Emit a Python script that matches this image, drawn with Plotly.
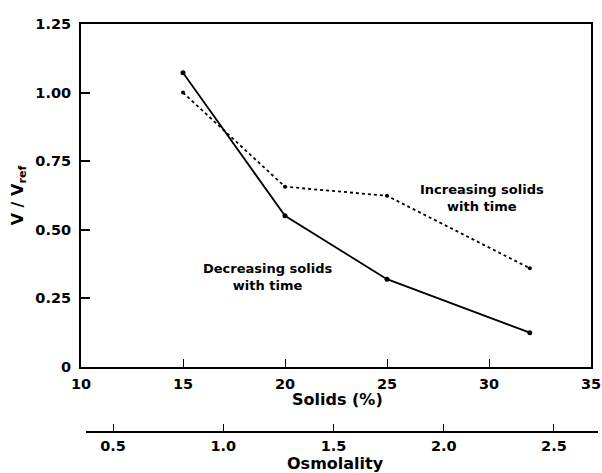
import plotly.graph_objects as go

solids = [15, 20, 25, 32]
decreasing = [1.072, 0.551, 0.32, 0.125]
increasing = [1.0, 0.657, 0.624, 0.36]

x_ticks = [10, 15, 20, 25, 30, 35]
y_ticks = [0, 0.25, 0.5, 0.75, 1.0, 1.25]
y_ticktext = ["0", "0.25", "0.50", "0.75", "1.00", "1.25"]
osm_ticks = [0.5, 1.0, 1.5, 2.0, 2.5]
osm_ticktext = ["0.5", "1.0", "1.5", "2.0", "2.5"]
osm_range = [0.377, 2.70]

W, H = 602, 473
ml, mr, mt, mb = 81, 4, 24, 2
pw = W - ml - mr
ph = H - mt - mb

def yfrac(py):  # py in reference pixels
    return (H - mb - py) / ph

def xfrac(px):  # px in reference pixels
    return (px - ml) / pw

font_tick = dict(family="DejaVu Sans", size=14.5, color="black", weight="bold")
font_title = dict(family="DejaVu Sans", size=16, color="black", weight="bold")
font_txt = dict(family="DejaVu Sans", size=13, color="black", weight="bold")

fig = go.Figure()
fig.add_trace(go.Scatter(
    x=solids, y=decreasing, mode="lines+markers",
    line=dict(color="black", width=1.8),
    marker=dict(color="black", size=5),
    showlegend=False))
fig.add_trace(go.Scatter(
    x=solids, y=increasing, mode="lines+markers",
    line=dict(color="black", width=1.8, dash="dot"),
    marker=dict(color="black", size=4),
    showlegend=False))
# invisible trace to anchor the osmolality axis
fig.add_trace(go.Scatter(
    x=osm_range, y=[None, None], xaxis="x2", yaxis="y2",
    mode="markers", showlegend=False, hoverinfo="skip"))

fig.update_layout(
    width=W, height=H,
    margin=dict(l=ml, r=mr, t=mt, b=mb),
    paper_bgcolor="white", plot_bgcolor="white",
    xaxis=dict(
        domain=[0, xfrac(591)], range=[10, 35],
        tickvals=x_ticks, ticktext=[str(v) for v in x_ticks],
        ticks="inside", ticklen=8, tickwidth=1, tickcolor="black",
        showline=True, linecolor="black", linewidth=2, mirror=True,
        showgrid=False, zeroline=False, tickfont=font_tick,
        ticklabelstandoff=3,
        anchor="y", automargin=False,
    ),
    yaxis=dict(
        domain=[yfrac(367), 1], range=[0, 1.25],
        tickvals=y_ticks, ticktext=y_ticktext,
        ticks="inside", ticklen=9, tickwidth=2, tickcolor="black",
        showline=True, linecolor="black", linewidth=2, mirror=True,
        showgrid=False, zeroline=False, tickfont=font_tick,
        ticklabelstandoff=5,
        title=dict(text="V / V<sub>ref</sub>", font=font_title, standoff=8),
        anchor="x", automargin=False,
    ),
    xaxis2=dict(
        domain=[xfrac(86), 1], range=osm_range,
        tickvals=osm_ticks, ticktext=osm_ticktext,
        ticks="inside", ticklen=7, tickwidth=1, tickcolor="black",
        showline=True, linecolor="black", linewidth=2,
        showgrid=False, zeroline=False, tickfont=font_tick,
        ticklabelstandoff=1,
        anchor="free", position=yfrac(432), side="bottom", automargin=False,
    ),
    yaxis2=dict(domain=[0, 0.04], visible=False, range=[0, 1]),
    annotations=[
        dict(xref="x", yref="y", x=10 + (482 - 81) / 20.4, y=(367 - 197.5) / 274.4,
             text="Increasing solids<br>with time",
             showarrow=False, font=font_txt, align="center"),
        dict(xref="x", yref="y", x=10 + (267 - 81) / 20.4, y=(367 - 277) / 274.4,
             text="Decreasing solids<br>with time",
             showarrow=False, font=font_txt, align="center"),
        dict(xref="paper", yref="paper", x=xfrac(337.5), y=yfrac(399),
             text="Solids (%)", showarrow=False, font=font_title,
             xanchor="center", yanchor="middle"),
        dict(xref="paper", yref="paper", x=xfrac(335), y=yfrac(463),
             text="Osmolality", showarrow=False, font=font_title,
             xanchor="center", yanchor="middle"),
    ],
)

fig.write_html("out.html", config={"displayModeBar": False},
               post_script="document.body.style.margin='0';")
